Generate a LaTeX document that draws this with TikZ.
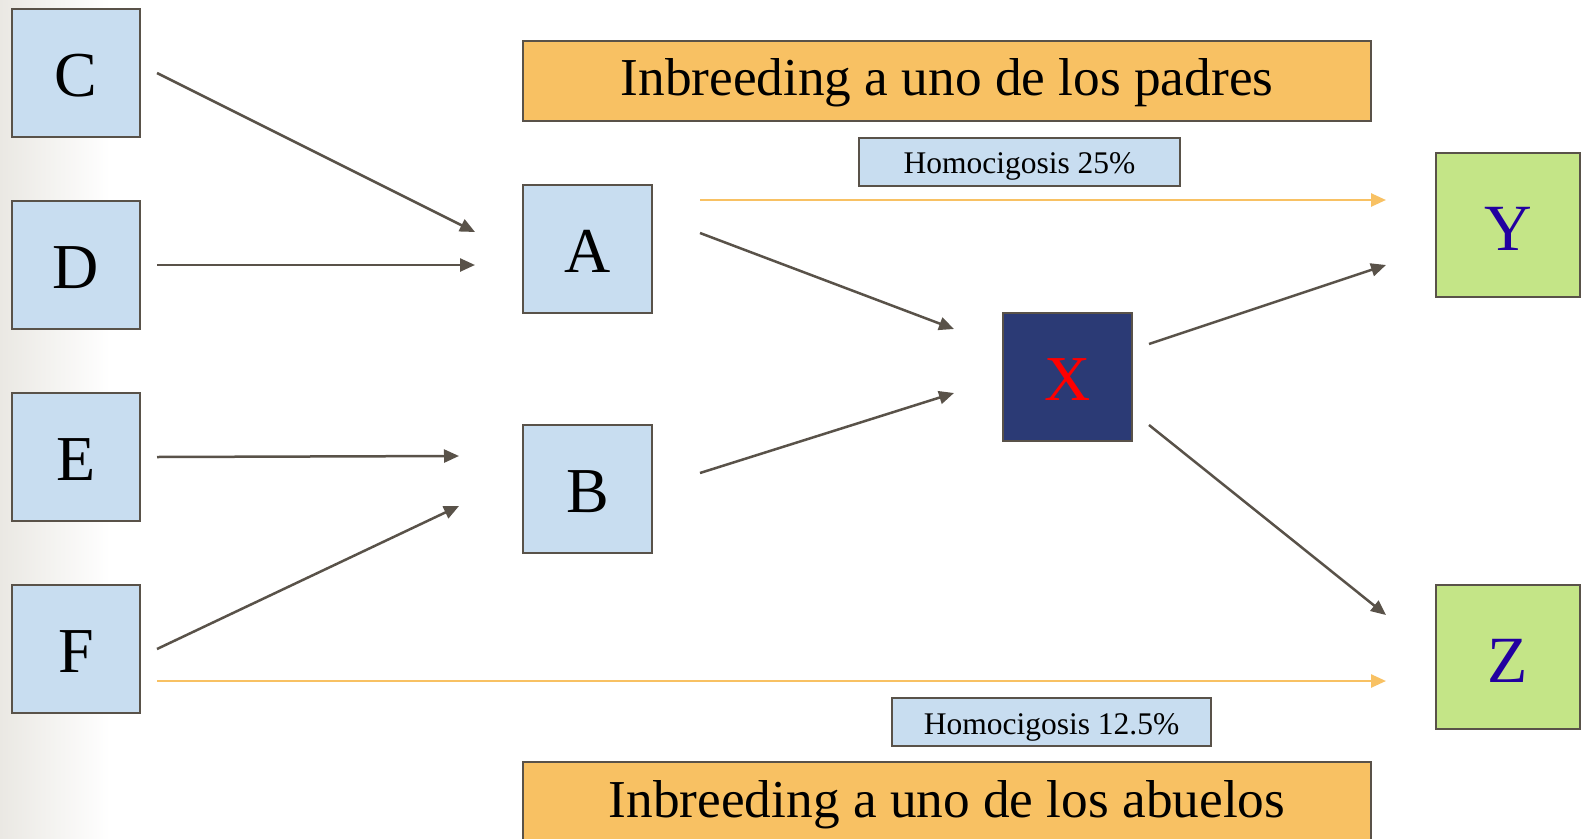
\documentclass[tikz,border=0pt]{standalone}
\usepackage{fontspec}
\setmainfont{Liberation Serif}
\usetikzlibrary{arrows.meta,calc}

\definecolor{boxblue}{HTML}{C8DDF0}
\definecolor{boxorange}{HTML}{F8C163}
\definecolor{boxgreen}{HTML}{C4E587}
\definecolor{boxnavy}{HTML}{2B3A75}
\definecolor{edgegray}{HTML}{595249}
\definecolor{lettrviolet}{HTML}{2200A0}
\definecolor{sidegray}{HTML}{EAE8E3}

\tikzset{
  person/.style={draw=edgegray, line width=2pt, fill=boxblue, inner sep=0pt,
    minimum width=128pt, minimum height=128pt, text height=46pt, text depth=0pt,
    font=\fontsize{64}{64}\selectfont},
  child/.style={person, fill=boxgreen, minimum width=144pt, minimum height=144pt,
    text=lettrviolet, text height=51pt, font=\fontsize{66}{66}\selectfont},
  banner/.style={draw=edgegray, line width=2pt, fill=boxorange, inner sep=0pt,
    minimum width=848pt, minimum height=80pt, text depth=6pt,
    font=\fontsize{53.3}{53.3}\selectfont},
  tag/.style={draw=edgegray, line width=2pt, fill=boxblue, inner sep=0pt,
    minimum height=48pt, text height=24pt, text depth=0pt,
    font=\fontsize{31.5}{31.5}\selectfont},
  link/.style={draw=edgegray, line width=2.5pt,
    -{Triangle[length=15pt,width=13pt]}},
  path/.style={draw=boxorange, line width=2.5pt,
    -{Triangle[length=15pt,width=13pt]}},
}

\begin{document}
\begin{tikzpicture}[x=1pt,y=-1pt]
  \clip (0,0) rectangle (1587,838);
  \fill[white] (0,0) rectangle (1587,838);
  \shade[left color=sidegray, right color=white] (0,0) rectangle (110,838);

  % ancestors and parents
  \node[person] (C) at (76,73) {C};
  \node[person] (D) at (76,265) {D};
  \node[person] (E) at (76,457) {E};
  \node[person] (F) at (76,649) {F};
  \node[person, minimum width=129pt] (A) at (587.5,249) {A};
  \node[person, minimum width=129pt] (B) at (587.5,489) {B};
  \node[person, minimum width=129pt, fill=boxnavy, text=red] (X) at (1067.5,377) {X};
  \node[child] (Y) at (1508,225) {Y};
  \node[child] (Z) at (1508,657) {Z};

  % headings and percentages
  \node[banner] (T1) at (947,80.5) {Inbreeding a uno de los padres};
  \node[banner] (T2) at (947,802) {Inbreeding a uno de los abuelos};
  \node[tag, minimum width=321pt] (H1) at (1019.5,161.5) {Homocigosis 25\%};
  \node[tag, minimum width=319pt] (H2) at (1051.5,722) {Homocigosis 12.5\%};

  % descent lines
  \draw[link] ($(C.east)+(16,0)$) -- ($(A.west)+(-47,-17)$);
  \draw[link] ($(D.east)+(16,0)$) -- ($(A.west)+(-47,16)$);
  \draw[link] ($(E.east)+(16,0)$) -- ($(B.west)+(-63,-33)$);
  \draw[link] ($(F.east)+(16,0)$) -- ($(B.west)+(-63,17)$);
  \draw[link] ($(A.east)+(47,-16)$) -- ($(X.west)+(-48,-48)$);
  \draw[link] ($(B.east)+(47,-16)$) -- ($(X.west)+(-48,16)$);
  \draw[link] ($(X.east)+(16,-33)$) -- ($(Y.west)+(-49,40)$);
  \draw[link] ($(X.east)+(16,48)$) -- ($(Z.west)+(-49,-42)$);

  % inbreeding paths
  \draw[path] ($(A.east)+(47,-49)$) -- ($(Y.west)+(-49,-25)$);
  \draw[path] ($(F.east)+(16,32)$) -- ($(Z.west)+(-49,24)$);
\end{tikzpicture}
\end{document}
